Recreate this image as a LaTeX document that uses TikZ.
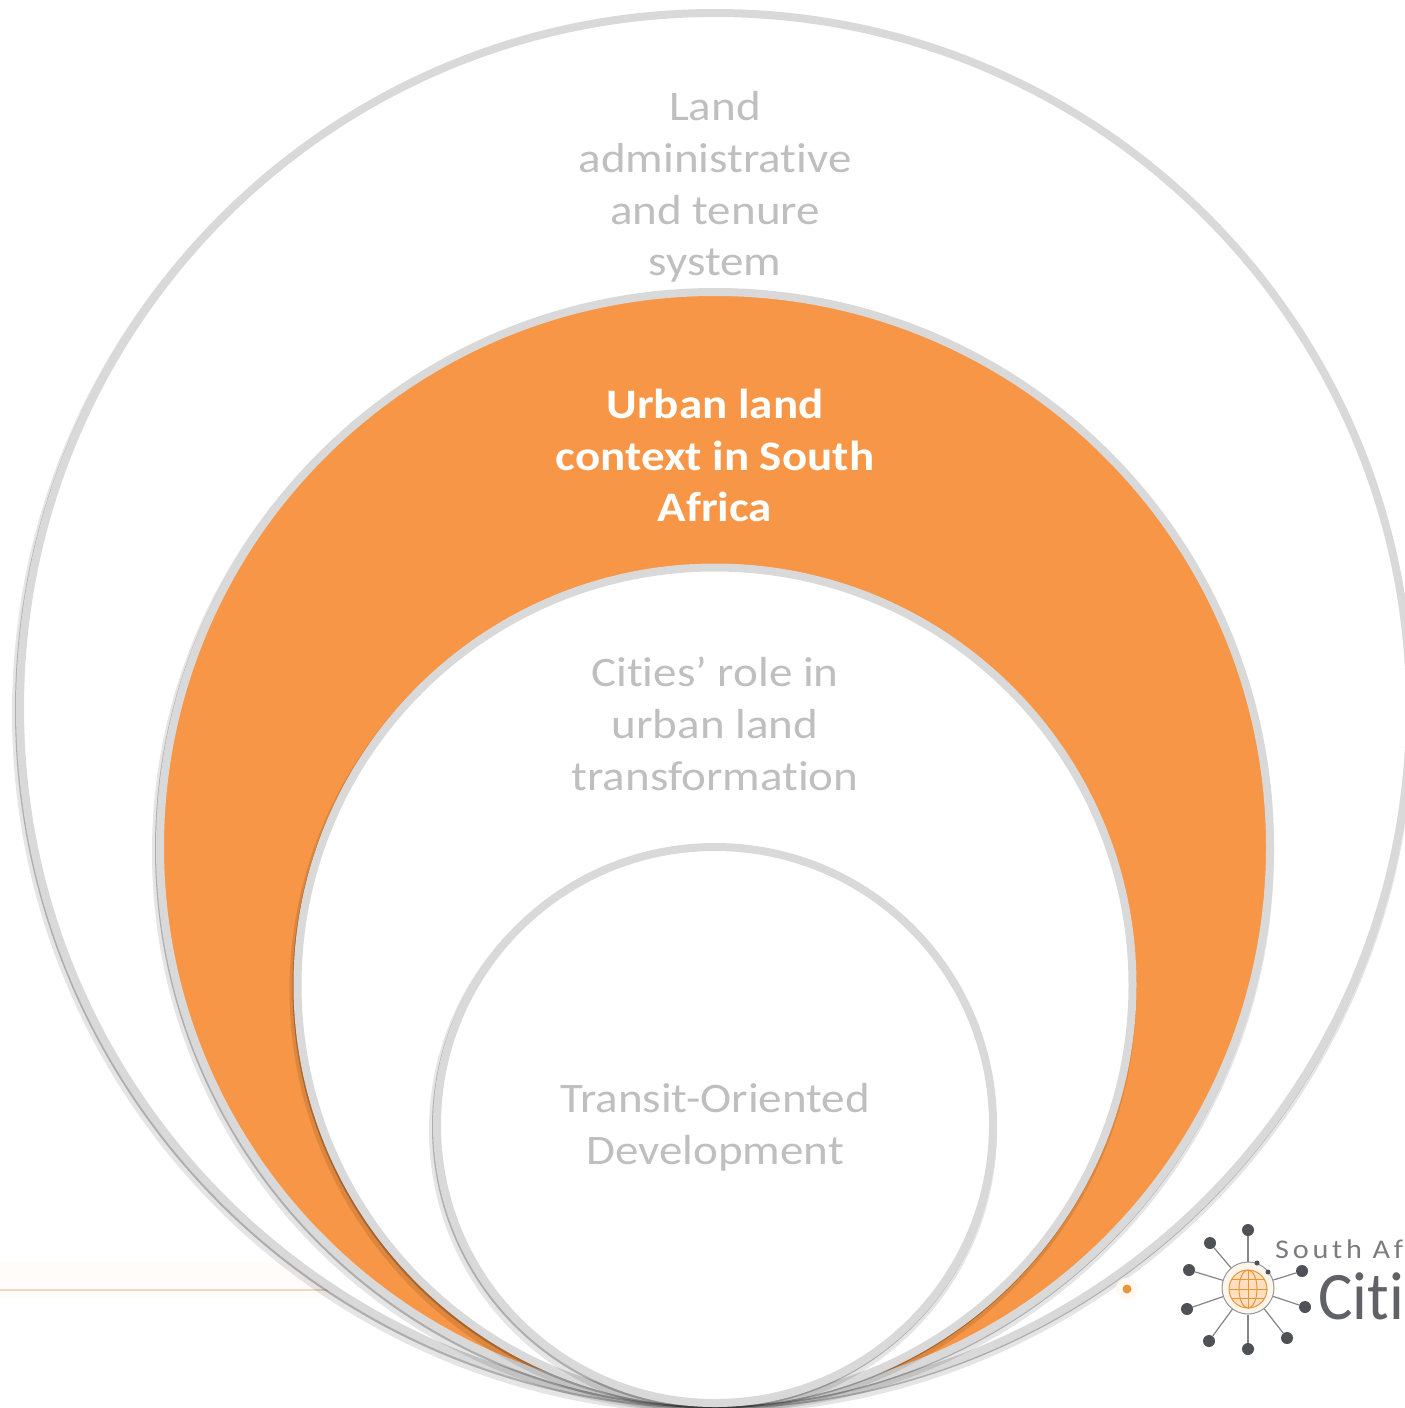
\documentclass[tikz,border=0pt]{standalone}
\usepackage{fontspec}
\setmainfont[FakeStretch=1.12,Ligatures=NoCommon]{Carlito}
\newfontfamily\spacedfont[LetterSpace=14,FakeStretch=1.12]{Carlito}
\newfontfamily\citifont[FakeStretch=0.95,Ligatures=NoCommon]{Carlito}
\definecolor{ringgray}{HTML}{D9D9D9}
\definecolor{labelgray}{HTML}{BFBFBF}
\definecolor{ringorange}{HTML}{F79646}
\definecolor{logogray}{HTML}{4E5156}
\definecolor{globeorange}{HTML}{E8963A}
\tikzset{
	ring/.style={shape=circle,draw=ringgray,line width=8pt,inner sep=0pt,minimum size=#1},
	ringshadow/.style={shape=circle,draw=black,draw opacity=0.24,line width=8pt,inner sep=0pt,minimum size=#1},
	softshadow/.style={shape=circle,draw=black,draw opacity=0.1,line width=10pt,inner sep=0pt,minimum size=#1},
	ringlabel/.style={align=center,text=labelgray,font=\fontsize{42}{51.7}\selectfont},
	logodot/.style={shape=circle,fill=logogray,inner sep=0pt,minimum size=12pt},
	spoke/.style={-, line width=1.2pt, color=logogray!70},
	globeline/.style={color=globeorange, line width=1pt}
}
\begin{document}
\begin{tikzpicture}[x=1pt,y=-1pt]
	
	\path[use as bounding box] (0, 0) rectangle (1405, 1408);
	\clip (0, 0) rectangle (1405, 1408);
	
	\fill[white] (0, 0) rectangle (1405, 1408);
	\coordinate (linestart) at (0, 1290);
	\coordinate (lineend) at (330, 1290);
	\fill[orange!2] (0, 1262) rectangle (330, 1298);
	\draw[-, line width=1.5pt, color=brown!30] (linestart) -- (lineend);
	
	\node[softshadow=1392pt] (outersoft) at (713, 713) {};
	\node[ringshadow=1390pt,fill=white] (outershadow) at (714, 710) {};
	\node[ring=1390pt,fill=white] (outer) at (715, 708) {};
	\node[softshadow=1112pt] (orangesoft) at (713, 852) {};
	\node[ringshadow=1110pt] (orangeshadow) at (714, 849) {};
	\node[ring=1110pt,fill=ringorange] (orangering) at (715, 847) {};
	\node[softshadow=837pt] (thirdsoft) at (713, 990) {};
	\node[ringshadow=835pt] (thirdshadow) at (714, 987) {};
	\node[ring=835pt,fill=white] (third) at (715, 985) {};
	\node[softshadow=558pt] (innersoft) at (713, 1130) {};
	\node[ringshadow=556pt] (innershadow) at (714, 1127) {};
	\node[ring=556pt,fill=white] (inner) at (715, 1125) {};
	
	\node[ringlabel] (land) at (715, 187) {Land\\administrative\\and tenure\\system};
	\node[ringlabel,text=white,font=\fontsize{42}{51.7}\selectfont\bfseries] (urban) at (715, 455.5) {Urban land\\context in South\\Africa};
	\node[ringlabel] (cities) at (715, 724) {Cities’ role in\\urban land\\transformation};
	\node[ringlabel] (transit) at (715, 1127) {Transit-Oriented\\Development};
	
	% logo
	\fill[orange!5] (1127, 1289) circle (11pt);
	\node[shape=circle,fill=globeorange,inner sep=0pt,minimum size=9pt] (bullet) at (1127, 1289) {};
	\node[logodot] (d1) at (1248, 1230) {};
	\node[logodot] (d2) at (1210, 1243) {};
	\node[logodot] (d3) at (1189, 1270) {};
	\node[logodot] (d4) at (1187, 1309) {};
	\node[logodot] (d5) at (1209, 1341) {};
	\node[logodot] (d6) at (1248, 1349) {};
	\node[logodot] (d7) at (1287, 1338) {};
	\node[logodot] (d8) at (1305, 1307) {};
	\node[logodot] (d9) at (1302, 1271) {};
	\node[shape=circle,draw=logogray!60,fill=orange!8,line width=1pt,inner sep=0pt,minimum size=52pt] (hub) at (1248, 1288) {};
	\path[spoke] (hub) edge (d1);
	\path[spoke] (hub) edge (d2);
	\path[spoke] (hub) edge (d3);
	\path[spoke] (hub) edge (d4);
	\path[spoke] (hub) edge (d5);
	\path[spoke] (hub) edge (d6);
	\path[spoke] (hub) edge (d7);
	\path[spoke] (hub) edge (d8);
	\path[spoke] (hub) edge (d9);
	\node[logodot,minimum size=5pt] (d10) at (1257, 1263) {};
	\node[logodot,minimum size=5pt] (d11) at (1268, 1272) {};
	
	\node[shape=circle,draw=globeorange,fill=orange!25,line width=1pt,inner sep=0pt,minimum size=38pt] (globe) at (1248, 1289) {};
	\draw[globeline] (globe.north) -- (globe.south);
	\draw[globeline] (globe.west) -- (globe.east);
	\draw[globeline] (globe.center) ellipse[x radius=9pt, y radius=19pt];
	\draw[globeline] (globe.150) -- (globe.30);
	\draw[globeline] (globe.210) -- (globe.-30);
	
	\node[anchor=west,inner sep=0pt,text=logogray!75,font=\fontsize{27}{27}\selectfont\spacedfont] (south) at (1275, 1249) {South Af};
	\node[anchor=west,inner sep=0pt,text=logogray!90,font=\fontsize{68}{68}\selectfont\citifont] (citi) at (1318, 1296) {Citi};
	
\end{tikzpicture}
\end{document}
